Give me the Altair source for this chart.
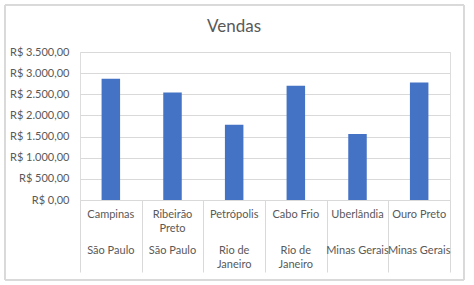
import altair as alt
import pandas as pd
import textwrap

cities = ["Campinas", "Ribeirão Preto", "Petrópolis", "Cabo Frio", "Uberlândia", "Ouro Preto"]
states = ["São Paulo", "São Paulo", "Rio de Janeiro", "Rio de Janeiro", "Minas Gerais", "Minas Gerais"]
sales = [2870, 2540, 1780, 2700, 1560, 2780]
y_ticks = [0, 500, 1000, 1500, 2000, 2500, 3000, 3500]

df = pd.DataFrame({
    "city": cities,
    "state": states,
    "city_txt": ["\n".join(textwrap.wrap(c, 12)) for c in cities],
    "state_txt": ["\n".join(textwrap.wrap(s, 12)) for s in states],
    "vendas": sales,
})

W, H = 370, 148
FONT = "Lato"
GREY = "#595959"
FS = 11

xenc = alt.X("city:N", sort=cities, title=None,
             scale=alt.Scale(paddingInner=0, paddingOuter=0),
             axis=alt.Axis(labels=False, tickBand="extent", tickSize=72, tickColor="#d9d9d9",
                           domainColor="#d9d9d9"))

bars = alt.Chart(df).mark_bar(color="#4472C4", width=alt.RelativeBandSize(0.3)).encode(
    x=xenc,
    y=alt.Y("vendas:Q", title=None,
            scale=alt.Scale(domain=[0, 3500], nice=False),
            axis=alt.Axis(values=y_ticks, domain=False, ticks=False, gridColor="#d9d9d9",
                          labelPadding=11, labelFont=FONT, labelFontSize=FS, labelColor=GREY,
                          labelExpr="'R$ ' + replace(replace(replace(format(datum.value, ',.2f'), ',', '#'), '.', ','), '#', '.')")),
    tooltip=["city", "state", "vendas"],
)

city_text = alt.Chart(df).mark_text(font=FONT, fontSize=FS, color=GREY, baseline="top",
                                    lineBreak="\n", lineHeight=13.5).encode(
    x=alt.X("city:N", sort=cities), y=alt.value(H + 9), text="city_txt:N"
)
state_text = alt.Chart(df).mark_text(font=FONT, fontSize=FS, color=GREY, baseline="top",
                                     lineBreak="\n", lineHeight=13.5).encode(
    x=alt.X("city:N", sort=cities), y=alt.value(H + 45), text="state_txt:N"
)

frame = alt.Chart(df).mark_rect(fill=None, stroke="#d9d9d9", strokeWidth=1).encode(
    x=alt.value(-75), x2=alt.value(384), y=alt.value(-47), y2=alt.value(228)
)
title = alt.Chart(pd.DataFrame({"t": ["Vendas"]})).mark_text(
    font=FONT, fontSize=17, fontWeight="normal", color=GREY, baseline="middle", align="center"
).encode(x=alt.value(154), y=alt.value(-25), text="t:N")

chart = alt.layer(frame, bars, city_text, state_text, title).properties(
    width=W, height=H,
    autosize=alt.AutoSizeParams(type="none"),
    padding={"left": 80, "top": 52, "right": 24, "bottom": 85},
).configure_view(stroke=None).configure(background="white")

chart.save("out.html", embed_options={"renderer": "svg", "actions": False})
